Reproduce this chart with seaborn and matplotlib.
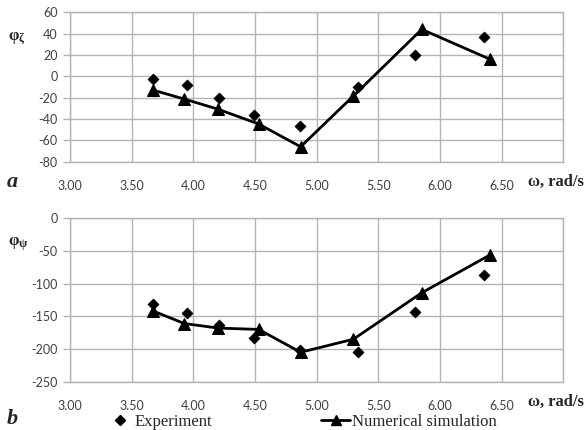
import matplotlib
matplotlib.use("Agg")
import matplotlib.pyplot as plt
import seaborn as sns
import pandas as pd
from matplotlib.lines import Line2D

# Data
exp_omega = [3.675, 3.946, 4.208, 4.495, 4.868, 5.338, 5.800, 6.360]
exp_phi_zeta = [-2.5, -8.4, -20.0, -36.3, -47.0, -10.3, 20.0, 37.2]
exp_phi_psi = [-131.0, -145.5, -163.5, -182.8, -201.0, -204.3, -144.0, -86.8]

sim_omega = [3.670, 3.927, 4.203, 4.530, 4.870, 5.298, 5.852, 6.406]
sim_phi_zeta = [-12.8, -21.3, -30.9, -44.7, -66.0, -18.4, 44.0, 16.0]
sim_phi_psi = [-141.5, -161.0, -168.0, -170.0, -205.0, -185.0, -114.0, -56.0]

xticks = [3.0, 3.5, 4.0, 4.5, 5.0, 5.5, 6.0, 6.5, 7.0]

sns.set_theme(style="white")
plt.rcParams['font.family'] = ['Lato', 'DejaVu Sans']

fig = plt.figure(figsize=(5.88, 4.30), dpi=100)
ax1 = fig.add_axes([70/588, 1-161.7/430, 493.3/588, 149.4/430])
ax2 = fig.add_axes([70/588, 1-381.7/430, 493.3/588, 163.4/430])

grid_c = "#b4b4b4"
tick_c = "#404040"
serif = "Liberation Serif"

def style_axis(ax, ylim, yticks):
    ax.set_xlim(3.0, 7.0)
    ax.set_ylim(*ylim)
    ax.set_xticks(xticks)
    ax.set_xticklabels(["%.2f" % t if t < 6.9 else "" for t in xticks], fontsize=9, color=tick_c)
    ax.set_yticks(yticks)
    ax.set_yticklabels([str(int(t)) for t in yticks], fontsize=9, color=tick_c)
    ax.grid(True, color=grid_c, linewidth=1.0)
    for s in ax.spines.values():
        s.set_color(grid_c)
        s.set_linewidth(1.0)
    ax.tick_params(axis="y", which="both", left=True, length=5, width=1.0, color=grid_c, pad=4)
    ax.tick_params(axis="x", which="both", bottom=False, pad=7)
    ax.set_xlabel("")
    ax.set_ylabel("")

df_exp = pd.DataFrame({"omega": exp_omega, "zeta": exp_phi_zeta, "psi": exp_phi_psi})
df_sim = pd.DataFrame({"omega": sim_omega, "zeta": sim_phi_zeta, "psi": sim_phi_psi})

for ax, col in [(ax1, "zeta"), (ax2, "psi")]:
    sns.lineplot(data=df_sim, x="omega", y=col, ax=ax, color="black", linewidth=2.0,
                 marker="^", markersize=8, markeredgecolor="black", sort=False, zorder=3)
    sns.scatterplot(data=df_exp, x="omega", y=col, ax=ax, color="black", marker="D",
                    s=32, edgecolor="black", zorder=4)

style_axis(ax1, (-80, 60), list(range(-80, 61, 20)))
style_axis(ax2, (-250, 0), list(range(-250, 1, 50)))

# Axis labels
fig.text(8/588, 1-36/430, "φ", family=serif, fontweight="bold", fontsize=12, va="center", ha="left")
fig.text(18.5/588, 1-39/430, "ζ", family=serif, fontweight="bold", fontsize=8.5, va="center", ha="left")
fig.text(8/588, 1-241/430, "φ", family=serif, fontweight="bold", fontsize=12, va="center", ha="left")
fig.text(18.5/588, 1-244/430, "ψ", family=serif, fontweight="bold", fontsize=8.5, va="center", ha="left")

fig.text(7/588, 1-182/430, "a", family=serif, fontweight="bold", style="italic", fontsize=16, va="center", ha="left")
fig.text(7/588, 1-419/430, "b", family=serif, fontweight="bold", style="italic", fontsize=16, va="center", ha="left")

fig.text(528/588, 1-182/430, "ω, rad/s", family=serif, fontweight="bold", fontsize=12, va="center", ha="left")
fig.text(528/588, 1-402/430, "ω, rad/s", family=serif, fontweight="bold", fontsize=12, va="center", ha="left")

# Legend (two entries placed separately)
fs = 12
h_exp = Line2D([], [], color="black", marker="D", linestyle="none", markersize=5.5)
h_sim = Line2D([], [], color="black", marker="^", linewidth=2.0, markersize=7)
leg1 = fig.legend([h_exp], ["Experiment"], loc="center left",
                  bbox_to_anchor=(111.5/588, 1-422/430), frameon=False,
                  prop={"family": serif, "size": fs}, handlelength=1.0,
                  handletextpad=0.4, borderaxespad=0, borderpad=0)
leg2 = fig.legend([h_sim], ["Numerical simulation"], loc="center left",
                  bbox_to_anchor=(321/588, 1-422/430), frameon=False,
                  prop={"family": serif, "size": fs}, handlelength=1.74,
                  handletextpad=0.12, borderaxespad=0, borderpad=0)

fig.savefig("out.png", dpi=100)
